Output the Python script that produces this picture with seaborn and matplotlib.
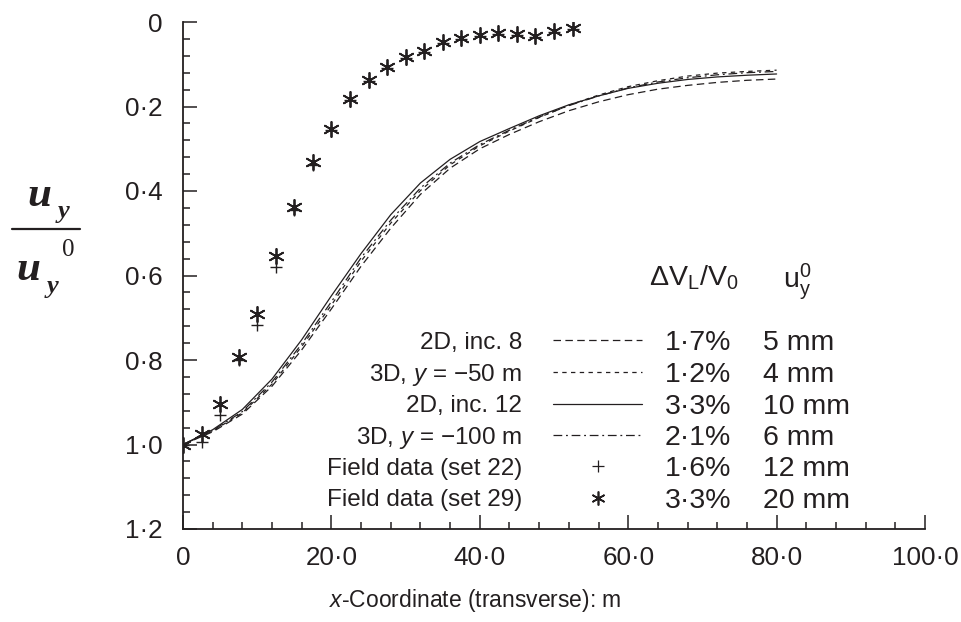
import matplotlib
matplotlib.use("Agg")
import matplotlib.pyplot as plt
import seaborn as sns
import pandas as pd
from matplotlib.ticker import FixedLocator

# ---------------- data ----------------
x_curve = [0, 4, 8, 12, 16, 20, 24, 28, 32, 36, 40, 44, 48, 52, 56, 60, 64, 68, 72, 76, 80]
inc8_2d = [1.0, 0.970, 0.928, 0.862, 0.776, 0.679, 0.578, 0.488, 0.408, 0.346, 0.300,
           0.266, 0.236, 0.210, 0.189, 0.172, 0.159, 0.150, 0.143, 0.138, 0.135]
y50_3d = [1.0, 0.968, 0.925, 0.857, 0.768, 0.670, 0.566, 0.476, 0.399, 0.338, 0.293,
          0.258, 0.226, 0.197, 0.173, 0.153, 0.139, 0.128, 0.121, 0.117, 0.114]
inc12_2d = [1.0, 0.965, 0.917, 0.845, 0.752, 0.648, 0.548, 0.456, 0.381, 0.325, 0.283,
            0.252, 0.222, 0.196, 0.175, 0.157, 0.145, 0.136, 0.130, 0.126, 0.123]
y100_3d = [1.0, 0.967, 0.922, 0.852, 0.762, 0.662, 0.558, 0.469, 0.393, 0.334, 0.290,
           0.256, 0.225, 0.198, 0.175, 0.156, 0.142, 0.132, 0.125, 0.120, 0.117]

x_field = [0, 2.5, 5, 7.5, 10, 12.5, 15, 17.5, 20, 22.5, 25, 27.5, 30, 32.5, 35,
           37.5, 40, 42.5, 45, 47.5, 50, 52.5]
set22 = [1.0, 0.994, 0.930, 0.800, 0.717, 0.580, 0.445, 0.338, 0.256, 0.184, 0.139,
         0.108, 0.085, 0.071, 0.049, 0.040, 0.033, 0.028, 0.030, 0.035, 0.023, 0.016]
set29 = [1.0, 0.975, 0.905, 0.793, 0.692, 0.553, 0.438, 0.331, 0.253, 0.182, 0.137,
         0.106, 0.083, 0.069, 0.047, 0.038, 0.031, 0.026, 0.028, 0.033, 0.021, 0.014]

series_names = ["2D, inc. 8", "3D, $y$ = \u221250 m", "2D, inc. 12", "3D, $y$ = \u2212100 m"]
field_names = ["Field data (set 22)", "Field data (set 29)"]
dv_labels = ["1\u00b77%", "1\u00b72%", "3\u00b73%", "2\u00b71%", "1\u00b76%", "3\u00b73%"]
u0_labels = ["5 mm", "4 mm", "10 mm", "6 mm", "12 mm", "20 mm"]

x_ticks = [0, 20, 40, 60, 80, 100]
x_ticklabels = ["0", "20\u00b70", "40\u00b70", "60\u00b70", "80\u00b70", "100\u00b70"]
y_ticks = [0, 0.2, 0.4, 0.6, 0.8, 1.0, 1.2]
y_ticklabels = ["0", "0\u00b72", "0\u00b74", "0\u00b76", "0\u00b78", "1\u00b70", "1\u00b72"]

# ---------------- style ----------------
sns.set_style("ticks")
plt.rcParams["font.family"] = ["Liberation Sans", "DejaVu Sans"]
plt.rcParams["mathtext.fontset"] = "custom"
plt.rcParams["mathtext.rm"] = "Liberation Sans"
plt.rcParams["mathtext.it"] = "Liberation Sans:italic"
plt.rcParams["mathtext.bf"] = "Liberation Sans:bold"

INK = "#231f20"
FS_TICK = 18.7
FS_LAB = 17.5
FS_COL = 20.5

fig = plt.figure(figsize=(9.62, 6.22), dpi=100)
ax = fig.add_axes([183 / 962, 1 - 529 / 622, (925 - 183) / 962, (529 - 22) / 622])

curves = [inc8_2d, y50_3d, inc12_2d, y100_3d]
df = pd.concat([pd.DataFrame({"x": x_curve, "y": c, "series": n})
                for c, n in zip(curves, series_names)], ignore_index=True)
dash_map = {series_names[0]: (6, 3.5), series_names[1]: (3.5, 3.5),
            series_names[2]: "", series_names[3]: (7, 3, 1.5, 3)}
sns.lineplot(data=df, x="x", y="y", style="series", dashes=dash_map, color=INK,
             linewidth=0.9, legend=False, sort=False, estimator=None, ax=ax)

ast_marker = (6, 2, 0)
sns.scatterplot(x=x_field, y=set29, marker=ast_marker, s=120, color=INK,
                linewidth=1.3, ax=ax, zorder=3)
sns.scatterplot(x=x_field, y=set22, marker="+", s=75, color=INK,
                linewidth=1.0, ax=ax, zorder=3)

ax.set_xlim(0, 100)
ax.set_ylim(1.2, 0)
ax.set_xticks(x_ticks)
ax.set_xticklabels(x_ticklabels)
ax.set_yticks(y_ticks)
ax.set_yticklabels(y_ticklabels)
ax.xaxis.set_minor_locator(FixedLocator([v for v in range(0, 101, 4) if v % 20 != 0]))
ax.yaxis.set_minor_locator(FixedLocator([i * 0.04 for i in range(31) if i % 5 != 0]))
ax.tick_params(which="major", direction="in", length=10, width=1.1, colors=INK,
               labelsize=FS_TICK, labelcolor=INK)
ax.tick_params(which="minor", direction="in", length=5, width=1.1, colors=INK)
ax.tick_params(axis="y", which="major", pad=15)
ax.tick_params(axis="x", which="major", pad=12)
for s in ["top", "right"]:
    ax.spines[s].set_visible(False)
for s in ["left", "bottom"]:
    ax.spines[s].set_linewidth(1.3)
    ax.spines[s].set_color(INK)
ax.set_xlabel("")
ax.set_ylabel("")

# x-axis label
fig.text(475 / 962, 1 - 600 / 622, "$x$-Coordinate (transverse): m", ha="center",
         va="center", fontsize=16.5, color=INK)

# y-axis label (fraction)
def ftxt(px, py, s, size, style="italic", weight="bold", ha="left"):
    fig.text(px / 962, 1 - py / 622, s, fontsize=size, ha=ha, va="center",
             family="Liberation Serif", style=style, weight=weight, color=INK)

ftxt(27, 196, "u", 31)
ftxt(58, 212, "y", 19)
fig.add_artist(plt.Line2D([12 / 962, 80 / 962], [1 - 229 / 622, 1 - 229 / 622],
                          color=INK, linewidth=1.6))
ftxt(16, 270, "u", 31)
ftxt(47, 286, "y", 19)
ftxt(62, 250, "0", 18, style="normal", weight="normal")

# ---------------- custom legend ----------------
row_y = [0.753, 0.828, 0.903, 0.977, 1.052, 1.126]
lab_x = 45.7
line_x = [49.9, 61.9]
mark_x = 55.9
pct_x = 64.9
mm_x = 78.1
dash_list = [(6, 3.5), (3.5, 3.5), None, (7, 3, 1.5, 3)]
labels_all = series_names + field_names
for i, ry in enumerate(row_y):
    ax.text(lab_x, ry, labels_all[i], ha="right", va="center_baseline", fontsize=FS_LAB, color=INK)
    ax.text(pct_x, ry, dv_labels[i], ha="left", va="center_baseline", fontsize=FS_COL, color=INK)
    ax.text(mm_x, ry, u0_labels[i], ha="left", va="center_baseline", fontsize=FS_COL, color=INK)
    if i < 4:
        ln, = ax.plot(line_x, [ry, ry], color=INK, linewidth=0.9)
        if dash_list[i] is not None:
            ln.set_dashes(dash_list[i])
    elif i == 4:
        ax.plot([mark_x], [ry], marker="+", markersize=9, color=INK, mew=0.9, linestyle="none")
    else:
        ax.plot([mark_x], [ry], marker=ast_marker, markersize=10, color=INK, mew=1.2, linestyle="none")

ax.text(62.8, 0.598, "\u0394V$_\\mathrm{L}$/V$_\\mathrm{0}$", ha="left", va="center_baseline",
        fontsize=FS_COL, color=INK)
ax.text(80.8, 0.598, "u$_\\mathrm{y}^\\mathrm{0}$", ha="left", va="center_baseline",
        fontsize=FS_COL, color=INK)

fig.savefig("out.png", dpi=100)
